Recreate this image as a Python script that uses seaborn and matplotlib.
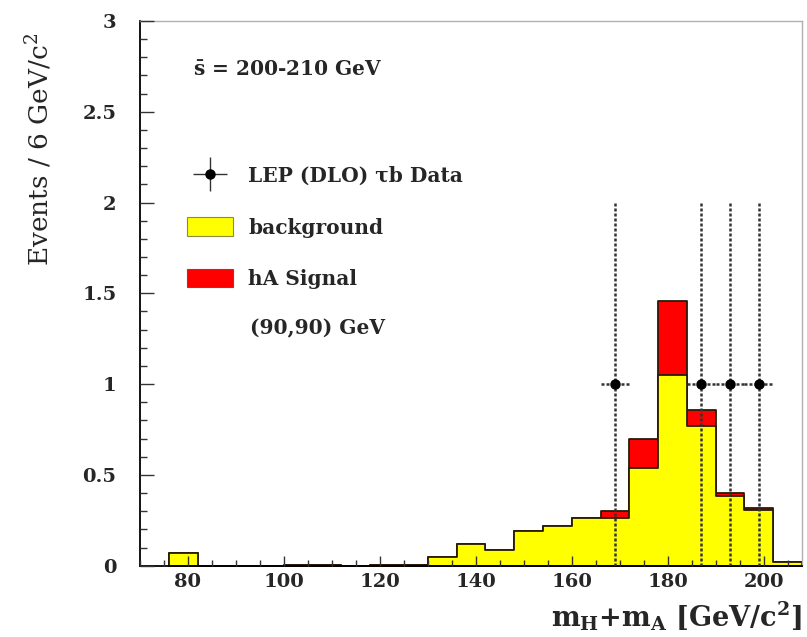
import numpy as np
import pandas as pd
import matplotlib
matplotlib.use("Agg")
import matplotlib.pyplot as plt
from matplotlib.patches import Patch
from matplotlib.lines import Line2D
from matplotlib.ticker import MultipleLocator, FuncFormatter
import seaborn as sns

sns.set_style("white")
plt.rcParams["font.family"] = ["DejaVu Serif"]
plt.rcParams["mathtext.fontset"] = "dejavuserif"

# 6 GeV bins from 76 to 208
bin_edges = list(range(76, 209, 6))
background = [0.07, 0, 0, 0, 0.005, 0.005, 0, 0.002, 0.002, 0.05, 0.12, 0.085,
              0.19, 0.22, 0.26, 0.26, 0.54, 1.05, 0.77, 0.385, 0.307, 0.02]
signal = [0, 0, 0, 0, 0, 0, 0, 0, 0, 0, 0, 0,
          0, 0, 0, 0.04, 0.16, 0.41, 0.09, 0.015, 0.013, 0]
data_x = [169, 187, 193, 199]
data_y = [1, 1, 1, 1]
data_xerr = 3
data_yerr = 1

df = pd.DataFrame({
    "center": [(a + b) / 2 for a, b in zip(bin_edges[:-1], bin_edges[1:])],
    "background": background,
})
df["total"] = df["background"] + np.array(signal)

fig = plt.figure(figsize=(8.07, 6.37), dpi=100)
ax = fig.add_axes([0.1735, 0.112, 0.8203, 0.855])
ax.set_axisbelow(False)

# signal stacked on background: draw total in red, background in yellow over it
sns.histplot(data=df, x="center", weights="total", bins=bin_edges, element="step", fill=True,
             facecolor="#ff0000", edgecolor="#2a1a0a", alpha=1, linewidth=1.3, ax=ax)
sns.histplot(data=df, x="center", weights="background", bins=bin_edges, element="step", fill=True,
             facecolor="#ffff00", edgecolor="#2a1a0a", alpha=1, linewidth=1.3, ax=ax)

eb = ax.errorbar(data_x, data_y, xerr=data_xerr, yerr=data_yerr, fmt="o", color="black",
                 ms=6.5, elinewidth=1.8, capsize=0, zorder=5)
for lc in eb[2]:
    lc.set_linestyle((0, (1.2, 0.8)))
    lc.set_color("#333333")

ax.set_xlim(70, 208)
ax.set_ylim(0, 3)
ax.xaxis.set_major_locator(MultipleLocator(20))
ax.xaxis.set_minor_locator(MultipleLocator(5))
ax.yaxis.set_major_locator(MultipleLocator(0.5))
ax.yaxis.set_minor_locator(MultipleLocator(0.1))
ax.yaxis.set_major_formatter(FuncFormatter(lambda v, p: f"{v:g}"))
ax.tick_params(axis="x", which="major", direction="in", length=7, width=1, pad=5,
               labelsize=14, bottom=True, top=False, color="#333333")
ax.tick_params(axis="x", which="minor", direction="in", length=4, width=1,
               bottom=True, top=False, color="#333333")
ax.tick_params(axis="y", which="major", direction="in", length=10, width=1, pad=17,
               labelsize=14, left=True, right=False, color="#333333")
ax.tick_params(axis="y", which="minor", direction="in", length=5, width=1,
               left=True, right=False, color="#333333")
for lab in ax.get_xticklabels() + ax.get_yticklabels():
    lab.set_fontweight("bold")

for side in ["left", "bottom"]:
    ax.spines[side].set_color("black")
    ax.spines[side].set_linewidth(1.3)
for side in ["top", "right"]:
    ax.spines[side].set_color("#b0b0b0")
    ax.spines[side].set_linewidth(1.0)

ax.set_ylabel("Events / 6 GeV/c$^2$", fontsize=19)
ax.yaxis.set_label_coords(-0.13, 0.765)
ax.set_xlabel(r"$\mathbf{m_H{+}m_A}$ [GeV/c$^\mathbf{2}$]", fontsize=19.5,
              fontweight="bold", loc="right", labelpad=6)

# legend: data symbol as a thin cross with a dot
data_handle = (Line2D([], [], marker="+", ms=24, mew=1.0, color="#333333", linestyle="none"),
               Line2D([], [], marker="o", ms=6.5, color="black", linestyle="none"))
handles = [data_handle,
           Patch(facecolor="#ffff00", edgecolor="#8a8a40", linewidth=0.8),
           Patch(facecolor="#ff0000", edgecolor="#8a4040", linewidth=0.8)]
labels = ["LEP (DLO) τb Data", "background", "hA Signal"]
ax.legend(handles, labels, loc="upper left", bbox_to_anchor=(0.071, 0.734),
          frameon=False, borderaxespad=0, borderpad=0, handlelength=2.3,
          handleheight=1.05, handletextpad=0.75, labelspacing=1.55,
          prop={"size": 14.5, "weight": "bold"})

ax.text(0.166, 0.436, "(90,90) GeV", transform=ax.transAxes, fontsize=14.5,
        fontweight="bold", va="center", ha="left")
ax.text(0.080, 0.91, r"$\mathbf{\bar{s}}$ = 200-210 GeV", transform=ax.transAxes,
        fontsize=14.5, fontweight="bold", va="center", ha="left")

fig.savefig("out.png", dpi=100)
